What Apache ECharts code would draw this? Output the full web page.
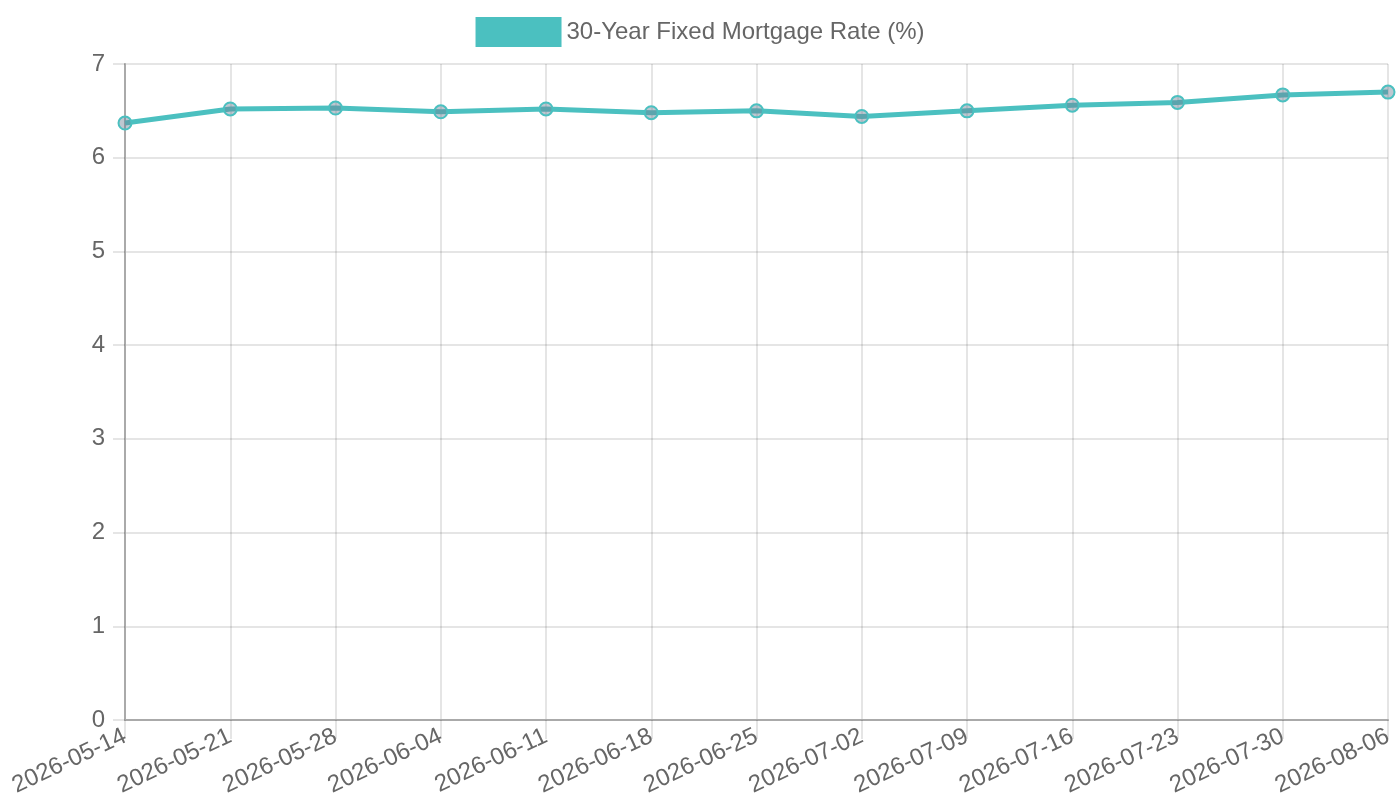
<!DOCTYPE html>
<html>
<head>
<meta charset="utf-8">
<title>30-Year Fixed Mortgage Rate</title>
<script src="https://cdn.jsdelivr.net/npm/echarts@6/dist/echarts.min.js"></script>
<style>
  html, body { margin: 0; padding: 0; background: #fff; }
  #chart { width: 1400px; height: 800px; }
</style>
</head>
<body>
<div id="chart"></div>
<script>
// weekly dates and rate values
const weeks = [
  '2026-05-14', '2026-05-21', '2026-05-28', '2026-06-04', '2026-06-11',
  '2026-06-18', '2026-06-25', '2026-07-02', '2026-07-09', '2026-07-16',
  '2026-07-23', '2026-07-30', '2026-08-06'
]
const rates = [6.37, 6.52, 6.53, 6.49, 6.52, 6.48, 6.50, 6.44, 6.50, 6.56, 6.59, 6.67, 6.70]
const seriesName = '30-Year Fixed Mortgage Rate (%)'

const teal = '#4BC0C0'
const gridColor = 'rgba(0, 0, 0, 0.1)'
const axisColor = '#aaaaaa'
const textColor = '#666666'
const font = 'Liberation Sans, Arial, sans-serif'

const chart = echarts.init(document.getElementById('chart'))
chart.setOption({
  animation: false,
  textStyle: { fontFamily: font },
  legend: {
    top: 17,
    left: 'center',
    icon: 'rect',
    itemWidth: 86,
    itemHeight: 30,
    itemGap: 10,
    padding: 0,
    textStyle: { color: textColor, fontSize: 24, fontFamily: font },
    data: [{ name: seriesName, itemStyle: { color: teal, borderWidth: 0 } }]
  },
  // fixed plot box, labels are allowed to hang outside
  grid: { left: 125, right: 12, top: 64, bottom: 80, containLabel: false, outerBoundsMode: 'none' },
  xAxis: {
    type: 'category',
    data: weeks,
    boundaryGap: false,
    axisLine: { lineStyle: { color: axisColor, width: 2 } },
    axisTick: { show: true, length: 19, lineStyle: { color: gridColor, width: 2 } },
    splitLine: { show: true, lineStyle: { color: gridColor, width: 2 } },
    axisLabel: {
      color: textColor,
      fontSize: 24,
      fontFamily: font,
      rotate: 25,
      margin: 15,
      interval: 0
    }
  },
  yAxis: {
    type: 'value',
    min: 0,
    max: 7,
    interval: 1,
    axisLine: { show: true, lineStyle: { color: axisColor, width: 2 } },
    axisTick: { show: true, length: 12, lineStyle: { color: gridColor, width: 2 } },
    splitLine: { show: true, lineStyle: { color: gridColor, width: 2 } },
    axisLabel: { color: textColor, fontSize: 24, fontFamily: font, margin: 20 }
  },
  series: [{
    name: seriesName,
    type: 'line',
    data: rates,
    symbol: 'circle',
    symbolSize: 13,
    lineStyle: { color: teal, width: 5 },
    itemStyle: { color: 'rgba(110, 130, 150, 0.45)', borderColor: teal, borderWidth: 2 },
    emphasis: { disabled: true }
  }]
})
</script>
</body>
</html>
